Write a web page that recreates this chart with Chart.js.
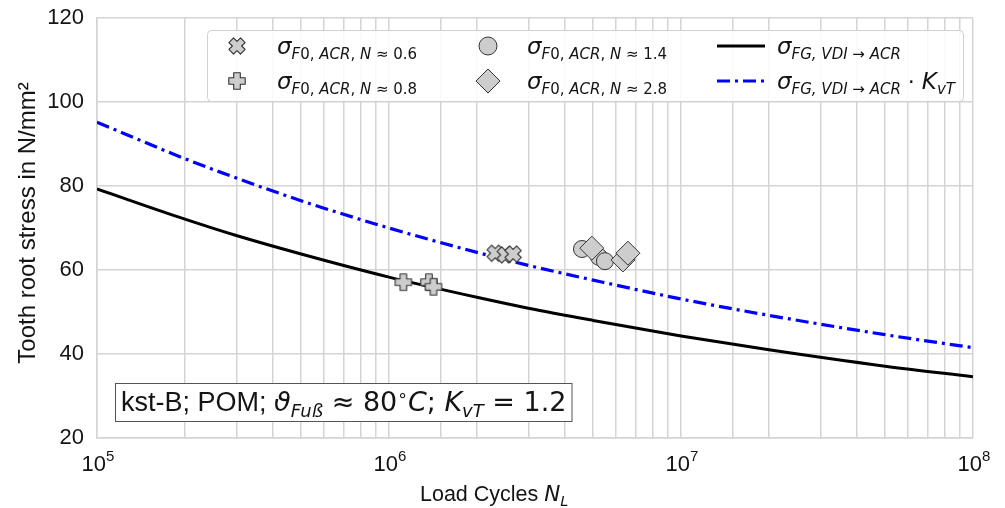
<!DOCTYPE html>
<html>
<head>
<meta charset="utf-8">
<script src="https://cdn.jsdelivr.net/npm/chart.js@4/dist/chart.umd.min.js"></script>
<style>
  body { margin: 0; background: #fff; }
  canvas { display: block; }
</style>
</head>
<body>
<canvas id="snChart" width="1005" height="508"></canvas>
<script>
// S-N curves
const curveCycles = [1e5, 2e5, 3e5, 5e5, 1e6, 2e6, 3e6, 5e6, 1e7, 2e7, 5e7, 1e8];
const stressVdi = [79.3, 72.1, 68.2, 63.8, 58.3, 53.5, 50.9, 48.0, 44.3, 41.0, 37.1, 34.6];
const stressVdiKvT = [95.2, 86.5, 81.9, 76.5, 70.0, 64.2, 61.1, 57.6, 53.1, 49.2, 44.6, 41.5];

// test points
const n06Cycles = [2.31e6, 2.50e6, 2.66e6];
const n06Stress = [64.0, 63.6, 63.8];
const n08Cycles = [1.12e6, 1.37e6, 1.42e6];
const n08Stress = [57.1, 57.1, 56.0];
const n14Cycles = [4.58e6, 5.24e6, 5.49e6];
const n14Stress = [65.0, 63.1, 62.1];
const n28Cycles = [4.95e6, 6.33e6, 6.58e6];
const n28Stress = [65.2, 62.4, 64.0];

const yTicks = [20, 40, 60, 80, 100, 120];
const xDecades = [5, 6, 7, 8];

const MARK_FILL = '#cdcdcd';
const MARK_EDGE = '#333';
const TEXT = '#141414';

function toPoints(xs, ys) {
    return xs.map((x, i) => ({ x: x, y: ys[i] }));
}

// thick plus / cross marker as an image
function plusMarker(rot) {
    let c = document.createElement('canvas');
    c.width = 22; c.height = 22;
    let g = c.getContext('2d');
    g.translate(11, 11);
    g.rotate(rot);
    let a = 3.3, L = 8.2;
    let pts = [[-a,-L],[a,-L],[a,-a],[L,-a],[L,a],[a,a],[a,L],[-a,L],[-a,a],[-L,a],[-L,-a],[-a,-a]];
    g.beginPath();
    pts.forEach((p, i) => i ? g.lineTo(p[0], p[1]) : g.moveTo(p[0], p[1]));
    g.closePath();
    g.lineJoin = 'round';
    g.fillStyle = MARK_FILL;
    g.fill();
    g.strokeStyle = MARK_EDGE;
    g.lineWidth = 1.1;
    g.stroke();
    return c;
}
const crossImg = plusMarker(Math.PI / 4);
const plusImg = plusMarker(0);

function drawRich(ctx, x, y, parts) {
    parts.forEach(p => {
        ctx.font = (p.i ? 'italic ' : '') + p.s + 'px ' + (p.f || '"DejaVu Sans"');
        ctx.fillText(p.t, x, y + (p.dy || 0));
        x += ctx.measureText(p.t).width;
    });
    return x;
}
function measureRich(ctx, parts) {
    let w = 0;
    parts.forEach(p => {
        ctx.font = (p.i ? 'italic ' : '') + p.s + 'px ' + (p.f || '"DejaVu Sans"');
        w += ctx.measureText(p.t).width;
    });
    return w;
}
const sig = { t: 'σ', s: 23, i: true };
function sb(t, it) { return { t: t, s: 15, i: it, dy: 5 }; }
function sigmaF0(val) {
    return [sig, sb('F', true), sb('0, ', false), sb('ACR', true), sb(', ', false), sb('N', true), sb(' ≈ ' + val, false)];
}
const sigmaFG = [sig, sb('FG, VDI', true), sb(' → ', false), sb('ACR', true)];

const overlayPlugin = {
    id: 'overlay',
    afterDraw(chart) {
        const ctx = chart.ctx;
        const xs = chart.scales.x;
        ctx.save();
        ctx.fillStyle = TEXT;
        ctx.textBaseline = 'alphabetic';
        ctx.textAlign = 'left';

        // x tick labels 10^n
        xDecades.forEach(d => {
            const px = xs.getPixelForValue(Math.pow(10, d));
            const parts = [{ t: '10', s: 22, f: '"Liberation Sans"' }, { t: String(d), s: 15, dy: -10, f: '"Liberation Sans"' }];
            const w = measureRich(ctx, parts);
            drawRich(ctx, px - w / 2 + 1, 471, parts);
        });

        // axis titles
        drawRich(ctx, 420, 501, [{ t: 'Load Cycles ', s: 21.5, f: '"Liberation Sans"' }, { t: 'N', s: 21.5, i: true }, { t: 'L', s: 14.5, i: true, dy: 5 }]);
        ctx.save();
        ctx.translate(35, 223);
        ctx.rotate(-Math.PI / 2);
        ctx.textAlign = 'center';
        ctx.font = '24px "Liberation Sans"';
        ctx.fillText('Tooth root stress in N/mm²', 0, 0);
        ctx.restore();

        // legend box
        ctx.beginPath();
        ctx.roundRect(207.5, 30.5, 756, 71, 4);
        ctx.fillStyle = 'rgba(255,255,255,0.85)';
        ctx.fill();
        ctx.strokeStyle = '#d0d0d0';
        ctx.lineWidth = 1;
        ctx.stroke();

        ctx.fillStyle = TEXT;
        const r1 = 54, r2 = 89;
        ctx.drawImage(crossImg, 237 - 11, r1 - 8 - 11);
        drawRich(ctx, 277, r1, sigmaF0('0.6'));
        ctx.drawImage(plusImg, 237 - 11, r2 - 8 - 11);
        drawRich(ctx, 277, r2, sigmaF0('0.8'));

        ctx.fillStyle = MARK_FILL;
        ctx.strokeStyle = MARK_EDGE;
        ctx.beginPath();
        ctx.arc(488, r1 - 8, 9, 0, Math.PI * 2);
        ctx.fill(); ctx.stroke();
        ctx.beginPath();
        ctx.moveTo(488, r2 - 8 - 12); ctx.lineTo(500, r2 - 8); ctx.lineTo(488, r2 - 8 + 12); ctx.lineTo(476, r2 - 8);
        ctx.closePath();
        ctx.fill(); ctx.stroke();
        ctx.fillStyle = TEXT;
        drawRich(ctx, 527, r1, sigmaF0('1.4'));
        drawRich(ctx, 527, r2, sigmaF0('2.8'));

        ctx.lineWidth = 3;
        ctx.strokeStyle = '#000';
        ctx.beginPath(); ctx.moveTo(717, r1 - 8); ctx.lineTo(765, r1 - 8); ctx.stroke();
        ctx.strokeStyle = '#0000ff';
        ctx.setLineDash([13, 5, 3, 5]);
        ctx.beginPath(); ctx.moveTo(717, r2 - 8); ctx.lineTo(765, r2 - 8); ctx.stroke();
        ctx.setLineDash([]);
        drawRich(ctx, 777, r1, sigmaFG);
        drawRich(ctx, 777, r2, sigmaFG.concat([{ t: ' · ', s: 22 }, { t: 'K', s: 23, i: true }, sb('vT', true)]));

        // annotation box
        const ann = [
            { t: 'kst-B; POM; ', s: 27, f: '"Liberation Sans"' },
            { t: 'ϑ', s: 27, i: true }, { t: 'Fuß', s: 18, i: true, dy: 6 },
            { t: ' ≈ 80', s: 27 }, { t: '∘', s: 17, dy: -10 }, { t: 'C', s: 27, i: true },
            { t: '; ', s: 27 }, { t: 'K', s: 27, i: true }, { t: 'vT', s: 18, i: true, dy: 6 },
            { t: ' = 1.2', s: 27 }
        ];
        const aw = measureRich(ctx, ann);
        ctx.fillStyle = '#fff';
        ctx.strokeStyle = '#555';
        ctx.lineWidth = 1;
        ctx.fillRect(115.5, 383.5, aw + 11, 38);
        ctx.strokeRect(115.5, 383.5, aw + 11, 38);
        ctx.fillStyle = TEXT;
        drawRich(ctx, 121, 411, ann);
        ctx.restore();
    }
};

new Chart('snChart', {
    type: 'line',
    data: {
        datasets: [{
            type: 'scatter',
            label: 'N ≈ 0.6',
            data: toPoints(n06Cycles, n06Stress),
            pointStyle: crossImg
        }, {
            type: 'scatter',
            label: 'N ≈ 0.8',
            data: toPoints(n08Cycles, n08Stress),
            pointStyle: plusImg
        }, {
            type: 'scatter',
            label: 'N ≈ 2.8',
            data: toPoints(n28Cycles, n28Stress),
            pointStyle: 'rectRot',
            pointRadius: 12,
            backgroundColor: MARK_FILL,
            borderColor: MARK_EDGE,
            borderWidth: 1
        }, {
            type: 'scatter',
            label: 'N ≈ 1.4',
            data: toPoints(n14Cycles, n14Stress),
            pointStyle: 'circle',
            pointRadius: 8.5,
            backgroundColor: MARK_FILL,
            borderColor: MARK_EDGE,
            borderWidth: 1
        }, {
            label: 'VDI',
            data: toPoints(curveCycles, stressVdi),
            borderColor: '#000',
            borderWidth: 3,
            pointRadius: 0,
            cubicInterpolationMode: 'monotone'
        }, {
            label: 'VDI KvT',
            data: toPoints(curveCycles, stressVdiKvT),
            borderColor: '#0000ff',
            borderWidth: 3.2,
            borderDash: [13, 5, 3, 5],
            pointRadius: 0,
            cubicInterpolationMode: 'monotone'
        }]
    },
    options: {
        responsive: false,
        animation: false,
        layout: { padding: { left: 0, top: 18, right: 32, bottom: 0 } },
        plugins: {
            legend: { display: false },
            tooltip: { enabled: false }
        },
        scales: {
            x: {
                type: 'logarithmic',
                min: 1e5,
                max: 1e8,
                ticks: { display: false },
                grid: { color: '#d4d4d4', lineWidth: 1.5, drawTicks: false },
                border: { color: '#d4d4d4', width: 1.5 },
                afterFit: (s) => { s.height = 70; s.paddingLeft = 0; s.paddingRight = 0; }
            },
            y: {
                min: 20,
                max: 120,
                afterBuildTicks: (s) => { s.ticks = yTicks.map(v => ({ value: v })); },
                ticks: {
                    color: TEXT,
                    padding: 13,
                    font: { family: 'Liberation Sans', size: 22 }
                },
                grid: { color: '#d4d4d4', lineWidth: 1.5, drawTicks: false },
                border: { color: '#d4d4d4', width: 1.5 },
                afterFit: (s) => { s.width = 97; s.paddingTop = 0; s.paddingBottom = 0; }
            }
        }
    },
    plugins: [overlayPlugin]
});
</script>
</body>
</html>
